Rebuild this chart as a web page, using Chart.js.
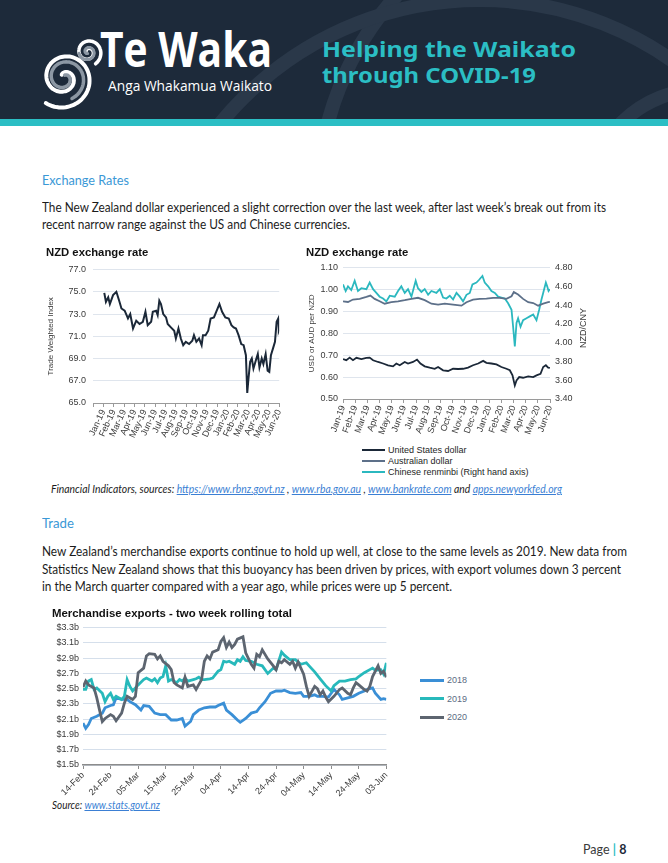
<!DOCTYPE html>
<html>
<head>
<meta charset="utf-8">
<script src="https://cdn.jsdelivr.net/npm/chart.js@4.4.1/dist/chart.umd.min.js"></script>
<style>
html, body { margin: 0; padding: 0; background: #fff; }
#page { position: relative; width: 668px; height: 863px; overflow: hidden; font-family: Lato, "Liberation Sans", sans-serif; color: #1c1c1c; }
.abs { position: absolute; white-space: nowrap; }
.fit { display: inline-block; transform-origin: 0 50%; }
#header { position: absolute; left: 0; top: 0; width: 668px; height: 119px; background: #1d2a3a; overflow: hidden; }
#stripe { position: absolute; left: 0; top: 119px; width: 668px; height: 7px; background: #2bbec4; }
.head { color: #3a98d6; font-size: 14px; line-height: 16px; }
.para { font-size: 13px; line-height: 16px; }
.note { font-size: 10.5px; line-height: 14px; font-style: italic; }
.note a { color: #3b7fd4; text-decoration: underline; }
canvas { position: absolute; }
.legend { position: absolute; font-family: "Liberation Sans", Arial, sans-serif; }
.legend div { position: absolute; white-space: nowrap; }
.legend span.ln { position: absolute; left: 0; }
.axtitle { position: absolute; font-family: "Liberation Sans", Arial, sans-serif; font-size: 9px; color: #3a3a3a; white-space: nowrap; transform: translate(-50%, -50%) rotate(-90deg); }
</style>
</head>
<body>
<div id="page">
  <div id="header">
    <svg id="deco" width="668" height="119" style="position:absolute;left:0;top:0"></svg>
    <div class="abs" style="left:100px;top:21px;color:#fff;font-family:'Open Sans',sans-serif;font-weight:700;font-size:48px;line-height:56px;"><span class="fit" data-w="172">Te Waka</span></div>
    <div class="abs" style="left:108px;top:77px;color:#fff;font-family:'Open Sans',sans-serif;font-size:14px;line-height:18px;"><span class="fit" data-w="164">Anga Whakamua Waikato</span></div>
    <div class="abs" style="left:322px;top:36px;color:#2bbec4;font-family:'Noto Sans',sans-serif;font-weight:700;font-size:21px;line-height:26px;"><span class="fit" data-w="254">Helping the Waikato</span></div>
    <div class="abs" style="left:322px;top:62px;color:#2bbec4;font-family:'Noto Sans',sans-serif;font-weight:700;font-size:21px;line-height:26px;"><span class="fit" data-w="214">through COVID-19</span></div>
  </div>
  <div id="stripe"></div>

  <div class="abs head" style="left:42px;top:172px;"><span class="fit" data-w="87">Exchange Rates</span></div>
  <div class="abs para" style="left:42px;top:199px;"><span class="fit" data-w="564">The New Zealand dollar experienced a slight correction over the last week, after last week’s break out from its</span></div>
  <div class="abs para" style="left:42px;top:216px;"><span class="fit" data-w="308">recent narrow range against the US and Chinese currencies.</span></div>

  <canvas id="twiChart" width="250" height="200" style="left:40px;top:244px;"></canvas>
  <canvas id="fxChart" width="290" height="200" style="left:300px;top:244px;"></canvas>
  <div class="axtitle" style="left:583px;top:328px;">NZD/CNY</div>
  <div id="fxLegend" class="legend" style="left:362px;top:444px;"></div>

  <div class="abs note" style="left:51px;top:482px;"><span class="fit" data-w="511">Financial Indicators, sources: <a>https://www.rbnz.govt.nz</a> , <a>www.rba.gov.au</a> , <a>www.bankrate.com</a> and <a>apps.newyorkfed.org</a></span></div>

  <div class="abs head" style="left:42px;top:515px;"><span class="fit" data-w="32">Trade</span></div>
  <div class="abs para" style="left:42px;top:543px;"><span class="fit" data-w="585">New Zealand’s merchandise exports continue to hold up well, at close to the same levels as 2019. New data from</span></div>
  <div class="abs para" style="left:42px;top:561px;"><span class="fit" data-w="579">Statistics New Zealand shows that this buoyancy has been driven by prices, with export volumes down 3 percent</span></div>
  <div class="abs para" style="left:42px;top:578px;"><span class="fit" data-w="410">in the March quarter compared with a year ago, while prices were up 5 percent.</span></div>

  <canvas id="exportChart" width="350" height="193" style="left:45px;top:604px;"></canvas>
  <div id="exportLegend" class="legend" style="left:420px;top:674px;"></div>

  <div class="abs note" style="left:52px;top:798px;"><span class="fit" data-w="108">Source: <a>www.stats.govt.nz</a></span></div>
  <div class="abs" style="left:583px;top:842px;font-size:12.5px;line-height:16px;color:#3a3a3a;">Page <span style="color:#2bbec4;font-weight:700;">|</span> <b style="color:#1d2a3a;">8</b></div>
</div>

<script>
// NZD TWI (left chart), x = months since Jan-19
const monthLabels = ['Jan-19','Feb-19','Mar-19','Apr-19','May-19','Jun-19','Jul-19','Aug-19','Sep-19','Oct-19','Nov-19','Dec-19','Jan-20','Feb-20','Mar-20','Apr-20','May-20','Jun-20'];
const twiMonths = [0.09,0.25,0.47,0.63,0.94,1.26,1.53,1.75,2.06,2.38,2.60,2.87,3.18,3.50,3.82,4.07,4.29,4.62,4.78,5.10,5.25,5.41,5.57,5.79,6.06,6.22,6.53,6.85,7.01,7.26,7.49,7.72,7.97,8.29,8.60,8.76,8.99,9.25,9.50,9.63,9.88,10.14,10.37,10.69,10.91,11.22,11.48,11.79,12.12,12.38,12.60,12.82,13.07,13.33,13.56,13.78,13.91,14.03,14.19,14.35,14.51,14.73,14.93,15.09,15.31,15.47,15.69,15.88,16.04,16.20,16.43,16.59,16.75,16.91,16.96,17.0];
const twiValues = [74.9,74.1,74.5,73.9,74.7,75.0,74.2,73.5,73.3,72.6,73.0,71.7,72.4,72.1,72.3,73.2,72.0,72.3,73.2,73.3,72.9,74.2,73.9,73.0,72.7,72.1,71.8,71.5,70.8,71.7,70.8,70.2,70.5,70.3,70.6,71.1,70.5,70.8,70.2,71.1,71.1,71.5,72.6,72.7,73.2,73.9,73.2,72.7,72.6,72.0,71.8,71.7,71.1,70.3,70.2,69.3,65.9,67.2,68.7,69.0,68.1,68.8,69.4,68.2,69.0,68.5,69.4,67.9,67.8,69.3,70.0,70.5,72.3,72.6,71.5,71.6];

// bilateral rates (right chart)
const fxNames = ['United States dollar', 'Australian dollar', 'Chinese renminbi (Right hand axis)'];
const usdMonths = [0,0.27,0.55,0.82,1.10,1.51,1.92,2.19,2.47,2.88,3.29,3.70,4.11,4.38,4.66,5.07,5.34,5.75,6.08,6.36,6.71,7.12,7.53,7.81,8.22,8.63,9.04,9.45,9.86,10.27,10.68,11.10,11.51,11.78,12.19,12.60,13.01,13.42,13.70,13.92,14.11,14.25,14.47,14.79,15.21,15.62,15.89,16.22,16.44,16.66,16.85,16.99];
const usdValues = [0.682,0.677,0.689,0.677,0.688,0.682,0.688,0.689,0.677,0.669,0.662,0.654,0.649,0.662,0.654,0.669,0.662,0.669,0.680,0.662,0.649,0.643,0.638,0.646,0.631,0.628,0.638,0.637,0.638,0.643,0.654,0.662,0.674,0.665,0.662,0.658,0.646,0.638,0.631,0.608,0.562,0.585,0.600,0.597,0.603,0.600,0.608,0.615,0.646,0.654,0.643,0.642];
const audMonths = [0,0.41,0.82,1.37,1.92,2.25,2.60,3.01,3.42,3.97,4.52,5.07,5.62,6.16,6.71,7.26,7.81,8.36,9.04,9.73,10.14,10.68,11.23,11.78,12.33,12.88,13.42,13.84,14.03,14.38,14.79,15.21,15.62,16.03,16.44,16.85,16.99];
const audValues = [0.946,0.943,0.954,0.957,0.966,0.972,0.957,0.946,0.935,0.942,0.946,0.951,0.957,0.962,0.951,0.935,0.931,0.935,0.931,0.926,0.942,0.954,0.957,0.958,0.962,0.962,0.957,0.969,0.988,0.977,0.957,0.942,0.938,0.926,0.935,0.942,0.943];
const cnyMonths = [0,0.22,0.41,0.68,0.96,1.23,1.51,1.92,2.19,2.47,2.74,3.01,3.29,3.56,3.84,4.25,4.52,4.79,5.07,5.34,5.62,5.97,6.16,6.44,6.71,6.99,7.26,7.67,7.95,8.22,8.49,8.77,9.04,9.32,9.59,9.86,10.14,10.41,10.63,10.96,11.18,11.45,11.64,11.92,12.19,12.47,12.74,13.01,13.29,13.56,13.84,13.97,14.11,14.25,14.38,14.58,14.79,15.07,15.34,15.62,15.89,16.11,16.30,16.44,16.66,16.77,16.88,16.99];
const cnyValues = [4.62,4.55,4.60,4.56,4.66,4.55,4.58,4.57,4.64,4.57,4.53,4.49,4.47,4.44,4.50,4.49,4.55,4.60,4.53,4.57,4.49,4.66,4.58,4.54,4.57,4.51,4.55,4.53,4.57,4.48,4.47,4.50,4.46,4.53,4.49,4.44,4.51,4.53,4.62,4.64,4.67,4.71,4.64,4.60,4.55,4.53,4.49,4.48,4.47,4.42,4.35,4.17,3.96,4.21,4.26,4.17,4.24,4.26,4.28,4.30,4.24,4.35,4.46,4.53,4.64,4.60,4.55,4.57];

// merchandise exports, x = days since 14-Feb
const dateLabels = ['14-Feb','24-Feb','05-Mar','15-Mar','25-Mar','04-Apr','14-Apr','24-Apr','04-May','14-May','24-May','03-Jun'];
const yearNames = ['2018', '2019', '2020'];
const days2018 = [0,1,2,3,5,7,8,10,11,12,14,16,17,19,21,22,24,26,28,30,32,34,36,37,39,40,42,44,46,48,49,51,52,54,56,57,59,61,63,64,66,68,70,72,73,75,77,79,80,82,84,85,87,89,90,91,93,94,96,98,100,102,103,105,106,108,109,110];
const vals2018 = [2.05,1.98,2.03,2.11,2.14,2.18,2.25,2.28,2.29,2.38,2.36,2.36,2.33,2.29,2.22,2.28,2.27,2.18,2.16,2.16,2.09,2.09,2.11,2.01,2.07,2.16,2.22,2.25,2.26,2.26,2.28,2.31,2.22,2.16,2.09,2.06,2.11,2.18,2.20,2.25,2.33,2.44,2.47,2.47,2.48,2.45,2.44,2.45,2.40,2.40,2.42,2.40,2.40,2.39,2.44,2.49,2.42,2.36,2.38,2.40,2.44,2.47,2.49,2.51,2.44,2.36,2.37,2.36];
const days2019 = [0,1,2,3,4,5,7,8,9,10,11,12,14,15,16,17,18,19,20,22,23,25,26,27,28,29,30,31,32,34,35,36,37,38,40,41,42,43,44,46,47,49,50,51,52,53,55,56,57,58,59,61,63,65,67,69,70,72,73,75,77,79,81,82,84,86,88,90,91,93,95,97,99,100,102,104,105,106,108,109,110];
const vals2019 = [2.49,2.49,2.60,2.62,2.49,2.51,2.44,2.33,2.40,2.44,2.36,2.40,2.36,2.40,2.62,2.53,2.47,2.51,2.55,2.62,2.64,2.60,2.63,2.58,2.64,2.66,2.80,2.60,2.62,2.58,2.62,2.60,2.64,2.60,2.62,2.63,2.65,2.62,2.62,2.63,2.64,2.73,2.75,2.86,2.85,2.86,2.82,2.88,2.86,2.92,2.87,2.86,2.82,2.80,2.70,2.77,2.75,2.98,2.94,2.88,2.88,2.82,2.84,2.80,2.72,2.63,2.54,2.47,2.54,2.60,2.60,2.62,2.63,2.66,2.71,2.75,2.77,2.74,2.75,2.69,2.84];
const days2020 = [0,1,2,4,5,6,7,8,10,11,12,14,15,16,18,19,20,22,23,24,26,27,28,29,31,32,33,34,36,37,38,40,41,43,44,45,46,47,49,50,51,52,53,54,55,56,58,59,61,62,63,64,65,67,69,70,71,72,73,75,76,77,78,80,81,82,84,85,86,87,88,89,91,93,94,96,97,98,99,100,102,103,104,105,107,108,109,110];
const vals2020 = [2.52,2.60,2.55,2.51,2.38,2.22,2.07,2.11,2.16,2.14,2.08,2.18,2.31,2.40,2.36,2.40,2.71,2.77,2.93,2.96,2.95,2.89,2.93,2.86,2.80,2.75,2.58,2.55,2.51,2.65,2.53,2.55,2.49,2.62,2.86,2.93,2.89,2.98,3.01,3.12,3.17,3.04,3.11,3.04,3.08,3.15,3.18,2.97,2.82,2.77,2.95,2.92,3.01,2.89,2.80,2.75,2.86,2.84,2.88,2.82,2.86,2.77,2.85,2.69,2.53,2.40,2.53,2.50,2.42,2.47,2.39,2.33,2.40,2.49,2.51,2.44,2.42,2.51,2.58,2.55,2.49,2.47,2.53,2.66,2.80,2.70,2.73,2.65];

const FONT = '"Liberation Sans", Arial, Helvetica, sans-serif';
Chart.defaults.font.family = FONT;
Chart.defaults.color = '#3a3a3a';
Chart.defaults.animation = false;

const pairs = (xs, ys) => xs.map((x, i) => ({ x: x, y: ys[i] }));

function monthAxis(min, rot, h) {
    return {
        type: 'linear', min: min, max: 17,
        ticks: { stepSize: 1, autoSkip: false, minRotation: rot, maxRotation: rot, font: { size: 9 }, padding: 1,
            callback: v => monthLabels[v] || '' },
        grid: { drawOnChartArea: false, tickLength: 4, color: '#9a9a9a' },
        border: { color: '#9a9a9a' },
        afterFit: s => { s.height = h; }
    };
}

function lineSet(label, xs, ys, color, width, extra) {
    return Object.assign({ label: label, data: pairs(xs, ys), borderColor: color, backgroundColor: color,
        borderWidth: width, pointRadius: 0, tension: 0, fill: false }, extra || {});
}

function titleOpts(text, size, top, bottom) {
    return { display: true, text: text, align: 'start', color: '#111',
        font: { size: size, weight: 'bold' }, padding: { top: top, bottom: bottom } };
}

// legend drawn as html, taken from the chart's own datasets
function htmlLegend(chart, el, lineW, lineH, gap, textColor) {
    chart.data.datasets.forEach((ds, i) => {
        const row = document.createElement('div');
        row.style.top = (i * gap) + 'px';
        row.style.height = '12px';
        row.style.lineHeight = '12px';
        row.style.paddingLeft = (lineW + 3) + 'px';
        row.style.fontSize = '9px';
        row.style.color = textColor;
        const ln = document.createElement('span');
        ln.className = 'ln';
        ln.style.top = (6 - lineH / 2) + 'px';
        ln.style.width = lineW + 'px';
        ln.style.height = lineH + 'px';
        ln.style.background = ds.borderColor;
        row.appendChild(ln);
        row.appendChild(document.createTextNode(ds.label));
        el.appendChild(row);
    });
}

let twiChart = new Chart(document.getElementById('twiChart'), {
    type: 'line',
    data: { datasets: [lineSet('Trade Weighted Index', twiMonths, twiValues, '#1b2838', 2)] },
    options: {
        responsive: false,
        layout: { padding: { left: 6, right: 9 } },
        plugins: { legend: { display: false }, tooltip: { enabled: false },
            title: titleOpts('NZD exchange rate', 11.3, 2, 10) },
        scales: {
            x: monthAxis(-1, 65, 41),
            y: { min: 65, max: 77,
                ticks: { stepSize: 2, callback: v => v.toFixed(1), font: { size: 9 }, padding: 7 },
                grid: { color: '#dfe5ed', drawTicks: false }, border: { display: false },
                title: { display: true, text: 'Trade Weighted Index', font: { size: 8 }, padding: 0 },
                afterFit: s => { s.width = 47; } }
        }
    }
});

let fxChart = new Chart(document.getElementById('fxChart'), {
    type: 'line',
    data: { datasets: [
        lineSet(fxNames[0], usdMonths, usdValues, '#1b2838', 1.8, { yAxisID: 'y' }),
        lineSet(fxNames[1], audMonths, audValues, '#5d7089', 1.8, { yAxisID: 'y' }),
        lineSet(fxNames[2], cnyMonths, cnyValues, '#2bb8bf', 1.8, { yAxisID: 'y1' })
    ] },
    options: {
        responsive: false,
        layout: { padding: { left: 6, right: 0 } },
        plugins: { legend: { display: false }, tooltip: { enabled: false },
            title: titleOpts('NZD exchange rate', 11.3, 2, 8) },
        scales: {
            x: monthAxis(0, 70, 45),
            y: { position: 'left', min: 0.5, max: 1.1,
                ticks: { stepSize: 0.1, callback: v => v.toFixed(2), font: { size: 9 }, padding: 5 },
                grid: { color: '#dfe5ed', drawTicks: false }, border: { display: false },
                title: { display: true, text: 'USD or AUD per NZD', font: { size: 8 }, padding: 1 },
                afterFit: s => { s.width = 37; } },
            y1: { position: 'right', min: 3.4, max: 4.8,
                ticks: { stepSize: 0.2, callback: v => v.toFixed(2), font: { size: 9 }, padding: 5 },
                grid: { display: false, drawTicks: false }, border: { display: false },
                afterFit: s => { s.width = 40; } }
        }
    }
});
htmlLegend(fxChart, document.getElementById('fxLegend'), 23, 2, 11, '#1e1e1e');

let exportChart = new Chart(document.getElementById('exportChart'), {
    type: 'line',
    data: { datasets: [
        lineSet(yearNames[0], days2018, vals2018, '#3a8fd6', 2.8, { order: 3 }),
        lineSet(yearNames[1], days2019, vals2019, '#27b9bb', 2.8, { order: 2 }),
        lineSet(yearNames[2], days2020, vals2020, '#5d6570', 2.8, { order: 1 })
    ] },
    options: {
        responsive: false,
        layout: { padding: { left: 7, right: 7 } },
        plugins: { legend: { display: false }, tooltip: { enabled: false },
            title: titleOpts('Merchandise exports - two week rolling total', 11.4, 3, 7) },
        scales: {
            x: { type: 'linear', min: 0, max: 110,
                ticks: { stepSize: 10, autoSkip: false, minRotation: 45, maxRotation: 45, font: { size: 9 }, padding: 1,
                    callback: v => dateLabels[Math.round(v / 10)] },
                grid: { drawOnChartArea: false, tickLength: 4, color: '#8c8c8c' },
                border: { color: '#8c8c8c', width: 1.5 },
                afterFit: s => { s.height = 32; } },
            y: { min: 1.5, max: 3.3,
                ticks: { stepSize: 0.2, callback: v => '$' + v.toFixed(1) + 'b', font: { size: 9 }, padding: 4 },
                grid: { color: '#d5dfeb', drawTicks: false }, border: { display: false },
                afterFit: s => { s.width = 31; } }
        }
    }
});
htmlLegend(exportChart, document.getElementById('exportLegend'), 24, 3, 18.5, '#5b6b82');

// header decoration: background arcs and the koru logo
(function () {
    const svg = document.getElementById('deco');
    const ns = 'http://www.w3.org/2000/svg';
    [[623, 200, 305], [480, 335, 335], [700, 200, 110]].forEach(c => {
        const el = document.createElementNS(ns, 'circle');
        el.setAttribute('cx', c[0]); el.setAttribute('cy', c[1]); el.setAttribute('r', c[2]);
        el.setAttribute('fill', 'none'); el.setAttribute('stroke', '#2a3849'); el.setAttribute('stroke-width', 14);
        svg.appendChild(el);
    });
    function spiral(cx, cy, r0, r1, turns, start, color, w) {
        const pts = [];
        for (let i = 0; i <= 140; i++) {
            const t = i / 140;
            const a = start - t * turns * 2 * Math.PI;
            const r = r0 + (r1 - r0) * t;
            pts.push((cx + r * Math.cos(a)).toFixed(1) + ',' + (cy + r * Math.sin(a)).toFixed(1));
        }
        const el = document.createElementNS(ns, 'polyline');
        el.setAttribute('points', pts.join(' '));
        el.setAttribute('fill', 'none'); el.setAttribute('stroke', color);
        el.setAttribute('stroke-width', w); el.setAttribute('stroke-linecap', 'round');
        svg.appendChild(el);
    }
    spiral(64, 78, 31, 4, 1.7, 2.2, '#ffffff', 4);
    spiral(64, 78, 22, 3, 1.4, 1.2, '#8c97a3', 3.5);
    spiral(88, 52, 14, 2, 1.6, 1.0, '#ffffff', 3.5);
    spiral(88, 52, 9, 1.5, 1.2, 3.0, '#8c97a3', 3);
})();

function fitText() {
    document.querySelectorAll('.fit').forEach(el => {
        el.style.transform = 'none';
        const w = el.getBoundingClientRect().width;
        if (w > 0) el.style.transform = 'scaleX(' + (el.dataset.w / w) + ')';
    });
}
fitText();
document.fonts.ready.then(fitText);
</script>
</body>
</html>
